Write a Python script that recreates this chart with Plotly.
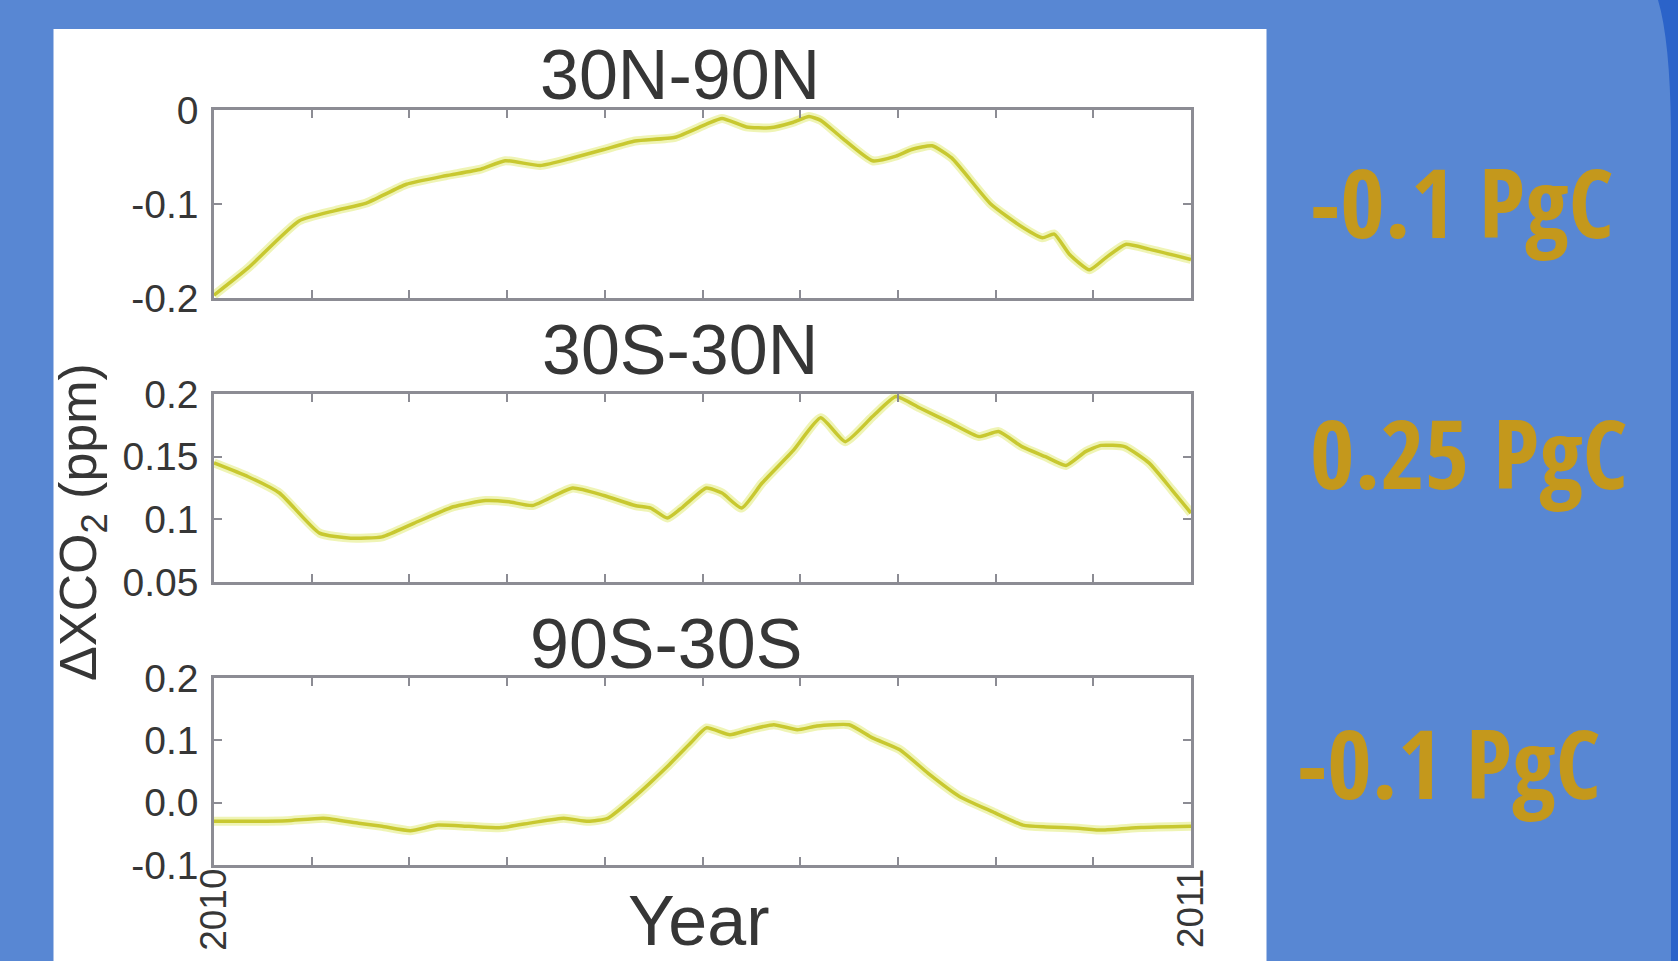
import plotly.graph_objects as go

# ---------------- data ----------------
t_north = [2010.000, 2010.035, 2010.087, 2010.124, 2010.156, 2010.197, 2010.237, 2010.273,
           2010.298, 2010.334, 2010.367, 2010.399, 2010.431, 2010.472, 2010.504, 2010.520,
           2010.545, 2010.569, 2010.593, 2010.609, 2010.621, 2010.642, 2010.674, 2010.698,
           2010.714, 2010.735, 2010.755, 2010.795, 2010.828, 2010.848, 2010.860, 2010.876,
           2010.896, 2010.913, 2010.933, 2010.957, 2011.000]
v_north = [-0.197, -0.168, -0.118, -0.107, -0.099, -0.079, -0.070, -0.063,
           -0.054, -0.059, -0.051, -0.042, -0.033, -0.029, -0.015, -0.009,
           -0.018, -0.019, -0.013, -0.007, -0.011, -0.029, -0.054, -0.049,
           -0.042, -0.038, -0.051, -0.100, -0.125, -0.136, -0.132, -0.154,
           -0.170, -0.157, -0.143, -0.148, -0.159]

t_tropics = [2010.000, 2010.035, 2010.067, 2010.108, 2010.140, 2010.172, 2010.205, 2010.245,
             2010.278, 2010.302, 2010.326, 2010.367, 2010.399, 2010.431, 2010.447, 2010.464,
             2010.480, 2010.504, 2010.520, 2010.540, 2010.561, 2010.593, 2010.621, 2010.646,
             2010.674, 2010.698, 2010.722, 2010.754, 2010.783, 2010.803, 2010.827, 2010.851,
             2010.872, 2010.892, 2010.908, 2010.932, 2010.957, 2010.981, 2011.000]
v_tropics = [0.145, 0.134, 0.121, 0.089, 0.085, 0.086, 0.097, 0.110,
             0.115, 0.114, 0.111, 0.125, 0.119, 0.111, 0.109, 0.101,
             0.110, 0.125, 0.121, 0.109, 0.129, 0.155, 0.181, 0.162,
             0.182, 0.198, 0.189, 0.177, 0.166, 0.170, 0.158, 0.150,
             0.143, 0.154, 0.159, 0.158, 0.145, 0.123, 0.105]

t_south = [2010.000, 2010.043, 2010.075, 2010.112, 2010.148, 2010.172, 2010.201, 2010.229,
           2010.261, 2010.294, 2010.326, 2010.358, 2010.383, 2010.403, 2010.431, 2010.464,
           2010.488, 2010.504, 2010.528, 2010.548, 2010.573, 2010.597, 2010.617, 2010.650,
           2010.674, 2010.702, 2010.731, 2010.763, 2010.796, 2010.828, 2010.852, 2010.884,
           2010.909, 2010.949, 2011.000]
v_south = [-0.030, -0.030, -0.029, -0.025, -0.033, -0.038, -0.045, -0.036,
           -0.038, -0.040, -0.032, -0.025, -0.030, -0.025, 0.010, 0.058,
           0.096, 0.120, 0.109, 0.117, 0.125, 0.117, 0.123, 0.125,
           0.104, 0.085, 0.047, 0.010, -0.014, -0.036, -0.039, -0.041,
           -0.044, -0.040, -0.038]

panel_titles = ["30N-90N", "30S-30N", "90S-30S"]
flux_labels = ["-0.1 PgC", "0.25 PgC", "-0.1 PgC"]

yticks_north = [-0.2, -0.1, 0.0]
ytext_north = ["-0.2", "-0.1", "0"]
yticks_tropics = [0.05, 0.10, 0.15, 0.20]
ytext_tropics = ["0.05", "0.1", "0.15", "0.2"]
yticks_south = [-0.1, 0.0, 0.1, 0.2]
ytext_south = ["-0.1", "0.0", "0.1", "0.2"]

x_start, x_end = 2010, 2011
xtick_vals = [x_start + k / 10 for k in range(11)]
xtick_text = ["2010"] + [""] * 9 + ["2011"]

# ---------------- figure ----------------
W, H = 1678, 961
BG = "#5887d3"
GOLD = "#c4981c"
AX = "#8c8c94"
TXT = "#363636"
LINE = "#c8c830"
HALO = "rgba(225,235,120,0.55)"

fig = go.Figure()

series = [(t_north, v_north), (t_tropics, v_tropics), (t_south, v_south)]
for i, (t, v) in enumerate(series):
    sfx = "" if i == 0 else str(i + 1)
    fig.add_trace(go.Scatter(x=t, y=v, mode="lines", xaxis="x" + sfx, yaxis="y" + sfx,
                             line=dict(color=HALO, width=9, shape="spline", smoothing=0.5),
                             hoverinfo="skip", showlegend=False))
    fig.add_trace(go.Scatter(x=t, y=v, mode="lines", xaxis="x" + sfx, yaxis="y" + sfx,
                             line=dict(color=LINE, width=3.5, shape="spline", smoothing=0.5),
                             showlegend=False))

def px_x(p):
    return p / W

def px_y(p):
    return 1 - p / H

x_dom = [px_x(214), px_x(1191)]
y_doms = [[px_y(298), px_y(110)], [px_y(582), px_y(394)], [px_y(865), px_y(678)]]
y_ranges = [[-0.2, 0.0], [0.05, 0.2], [-0.1, 0.2]]
y_ticks = [(yticks_north, ytext_north), (yticks_tropics, ytext_tropics), (yticks_south, ytext_south)]

tick_font = dict(family="Liberation Sans, Arial, sans-serif", size=39, color=TXT)

layout = dict(width=W, height=H, paper_bgcolor=BG, plot_bgcolor="white",
              margin=dict(l=0, r=0, t=0, b=0, pad=0, autoexpand=False), showlegend=False)

for i in range(3):
    sfx = "" if i == 0 else str(i + 1)
    anchor_y = "y" + sfx
    anchor_x = "x" + sfx
    layout["xaxis" + sfx] = dict(domain=x_dom, anchor=anchor_y, range=[x_start, x_end],
                                 tickvals=xtick_vals,
                                 ticktext=xtick_text if i == 2 else [""] * 11,
                                 ticks="inside", ticklen=8, tickwidth=2, tickcolor=AX,
                                 showline=True, linecolor=AX, linewidth=2.5, mirror="ticks",
                                 showgrid=False, zeroline=False, tickangle=-90,
                                 tickfont=dict(family="Liberation Sans, Arial, sans-serif",
                                               size=37, color=TXT),
                                 ticklabelstandoff=-14, automargin=False)
    layout["yaxis" + sfx] = dict(domain=y_doms[i], anchor=anchor_x, range=y_ranges[i],
                                 tickvals=y_ticks[i][0], ticktext=y_ticks[i][1],
                                 ticks="inside", ticklen=8, tickwidth=2, tickcolor=AX,
                                 showline=True, linecolor=AX, linewidth=2.5, mirror="ticks",
                                 showgrid=False, zeroline=False,
                                 tickfont=tick_font, ticklabelstandoff=5, automargin=False)

fig.update_layout(**layout)

# white panel behind the chart and dark blue slide edge
fig.add_shape(type="rect", xref="paper", yref="paper", layer="below",
              x0=px_x(53.5), x1=px_x(1266.5), y0=0, y1=px_y(29),
              fillcolor="white", line=dict(width=0))
fig.add_shape(type="path", xref="paper", yref="paper", layer="below",
              path=(f"M {px_x(1658)},1 Q {px_x(1670)},{px_y(40)} {px_x(1671)},{px_y(130)} "
                    f"L {px_x(1671)},0 L 1,0 L 1,1 Z"),
              fillcolor="#2b63c9", line=dict(width=0))

title_font = dict(family="Liberation Sans, Arial, sans-serif", size=70, color=TXT)
title_pos = [(680, 75), (680, 350), (666, 644)]
for (tx, ty), txt in zip(title_pos, panel_titles):
    fig.add_annotation(x=px_x(tx), y=px_y(ty), xref="paper", yref="paper", text=txt,
                       showarrow=False, font=title_font, xanchor="center", yanchor="middle")

fig.add_annotation(x=px_x(698), y=px_y(921), xref="paper", yref="paper", text="Year",
                   showarrow=False, font=title_font, xanchor="center", yanchor="middle")

fig.add_annotation(x=px_x(82), y=px_y(522), xref="paper", yref="paper",
                   text="ΔXCO<sub>2</sub> (ppm)", textangle=-90, showarrow=False,
                   font=dict(family="Liberation Sans, Arial, sans-serif", size=52, color=TXT),
                   xanchor="center", yanchor="middle")

flux_font = dict(family="Open Sans Condensed, Open Sans, sans-serif", size=96,
                 color=GOLD, weight=700)
flux_pos = [(1308, 201), (1308, 451), (1295, 761)]
for (fx, fy), txt in zip(flux_pos, flux_labels):
    fig.add_annotation(x=px_x(fx), y=px_y(fy), xref="paper", yref="paper", text=txt,
                       showarrow=False, font=flux_font, xanchor="left", yanchor="middle")

fig.write_html("out.html", config={"displayModeBar": False},
               post_script="document.body.style.margin='0';document.body.style.overflow='hidden';")
